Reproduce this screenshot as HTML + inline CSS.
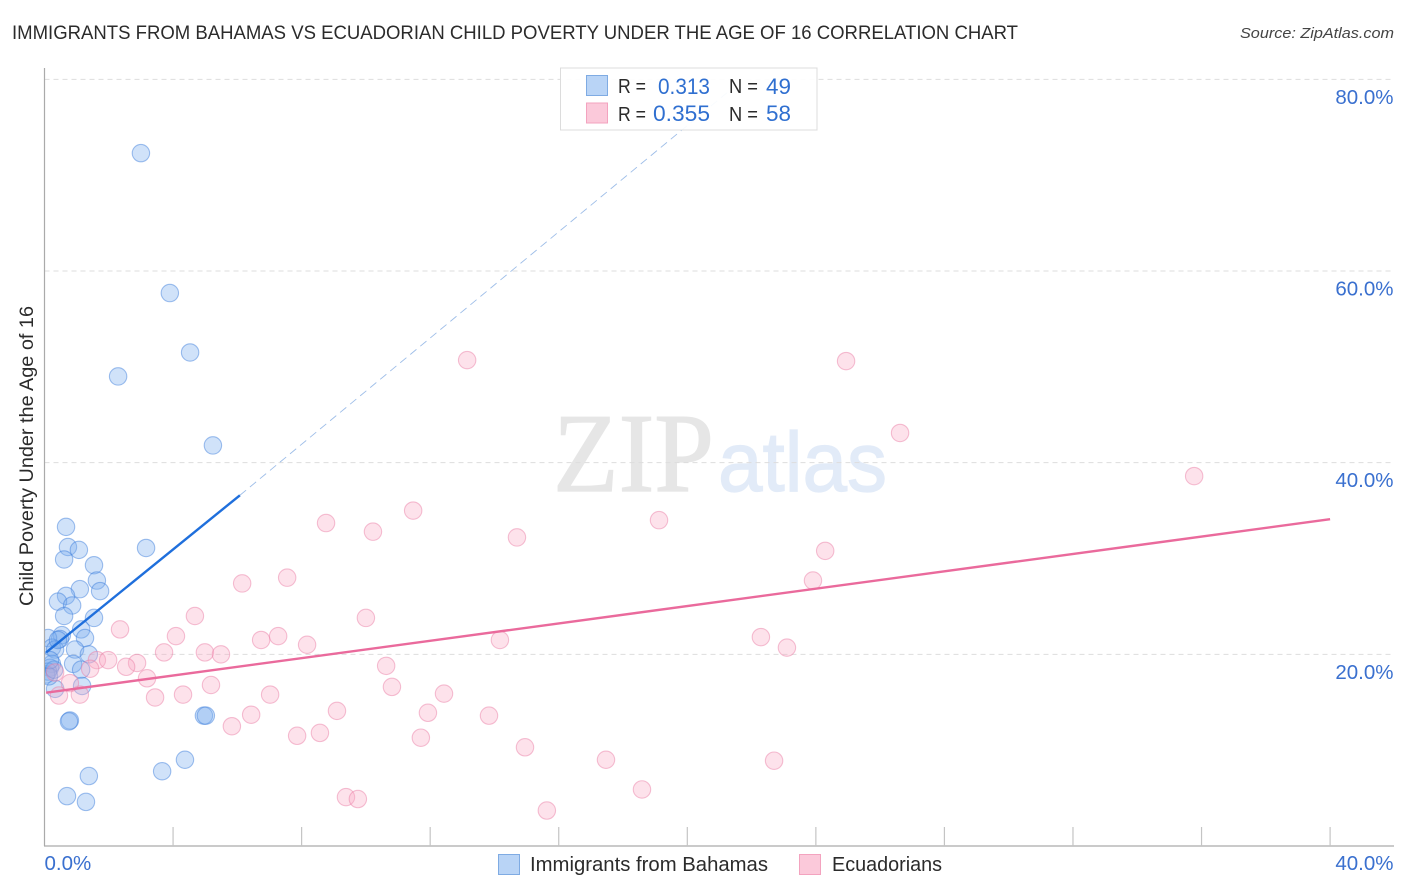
<!DOCTYPE html>
<html lang="en">
<head>
<meta charset="utf-8">
<title>Immigrants from Bahamas vs Ecuadorian Child Poverty Correlation Chart</title>
<style>
html,body{margin:0;padding:0;background:#fff;width:1406px;height:892px;overflow:hidden}
svg{display:block;font-family:"Liberation Sans",sans-serif}
</style>
</head>
<body>
<svg id="chart" xmlns="http://www.w3.org/2000/svg" width="1406" height="892" viewBox="0 0 1406 892">
  <defs>
    <clipPath id="plot-clip"><rect x="45" y="60" width="1349" height="786"/></clipPath>
  </defs>
  <text x="12" y="39" font-size="19" fill="#2b2b2b" textLength="1006" lengthAdjust="spacingAndGlyphs">IMMIGRANTS FROM BAHAMAS VS ECUADORIAN CHILD POVERTY UNDER THE AGE OF 16 CORRELATION CHART</text>
  <text x="1394" y="38" font-size="15" font-style="italic" fill="#444" text-anchor="end" textLength="154" lengthAdjust="spacingAndGlyphs">Source: ZipAtlas.com</text>
  <g>
    <text x="553" y="491" font-family="'Liberation Serif',serif" font-size="112" fill="#e6e6e6" stroke="#e6e6e6" stroke-width="1.2" textLength="161" lengthAdjust="spacingAndGlyphs">ZIP</text>
    <text x="718" y="491" font-size="84" fill="#e2ebf8" stroke="#e2ebf8" stroke-width="1.2" textLength="169" lengthAdjust="spacingAndGlyphs">atlas</text>
  </g>
  <g id="grid"></g>
  <g id="axes"></g>
  <g id="bahamas-points" clip-path="url(#plot-clip)"></g>
  <g id="ecuador-points" clip-path="url(#plot-clip)"></g>
  <g id="trends"></g>
  <text transform="translate(33,456) rotate(-90)" font-size="19" fill="#2b2b2b" text-anchor="middle" textLength="300" lengthAdjust="spacingAndGlyphs">Child Poverty Under the Age of 16</text>
  <g id="tick-labels"></g>

  <g>
    <rect x="560.5" y="68" width="256.5" height="62" fill="#fff" fill-opacity="0.93" stroke="#dcdcdc"/>
    <rect x="586.5" y="75.5" width="21" height="20" fill="#b9d4f6" stroke="#7fabe3"/>
    <rect x="586.5" y="103" width="21" height="20" fill="#fbc9da" stroke="#f3a3bf"/>
    <g font-size="20" fill="#2b2b2b">
      <text x="618" y="93" textLength="28" lengthAdjust="spacingAndGlyphs">R =</text>
      <text x="618" y="121" textLength="28" lengthAdjust="spacingAndGlyphs">R =</text>
      <text x="729" y="93" textLength="29" lengthAdjust="spacingAndGlyphs">N =</text>
      <text x="729" y="121" textLength="29" lengthAdjust="spacingAndGlyphs">N =</text>
    </g>
    <g font-size="22" fill="#2f6fd0">
      <text x="658" y="94" textLength="52" lengthAdjust="spacingAndGlyphs">0.313</text>
      <text x="653" y="121" textLength="57" lengthAdjust="spacingAndGlyphs">0.355</text>
      <text x="766" y="94" textLength="25" lengthAdjust="spacingAndGlyphs">49</text>
      <text x="766" y="121" textLength="25" lengthAdjust="spacingAndGlyphs">58</text>
    </g>
  </g>

  <g>
    <g>
      <rect x="498.5" y="854.5" width="21" height="20" fill="#b9d4f6" stroke="#7fabe3"/>
      <text x="530" y="871" font-size="20" fill="#2b2b2b" textLength="238" lengthAdjust="spacingAndGlyphs">Immigrants from Bahamas</text>
    </g>
    <g>
      <rect x="799.5" y="854.5" width="21" height="20" fill="#fbc9da" stroke="#f3a3bf"/>
      <text x="832" y="871" font-size="20" fill="#2b2b2b" textLength="110" lengthAdjust="spacingAndGlyphs">Ecuadorians</text>
    </g>
  </g>
</svg>
<script>
const bahamasX = [3.00,3.90,2.29,4.53,5.24,0.67,0.73,1.07,3.16,0.61,1.54,1.63,1.73,1.10,0.67,0.42,0.86,0.61,1.54,1.14,0.54,0.48,1.26,0.11,0.23,0.33,0.95,1.38,0.89,0.23,0.17,1.14,0.11,0.05,1.17,0.33,0.79,0.76,4.96,5.02,1.38,0.70,1.29,3.66,4.37,0.14,0.30,0.42,0.17];
const bahamasY = [72.3,57.7,49.0,51.5,41.8,33.3,31.2,30.9,31.1,29.9,29.3,27.7,26.6,26.8,26.1,25.5,25.1,24.0,23.8,22.6,22.0,21.6,21.7,21.7,20.7,20.5,20.5,20.0,19.0,19.0,18.6,18.4,18.2,17.9,16.7,16.4,13.1,13.0,13.6,13.6,7.3,5.2,4.6,7.8,9.0,17.7,18.4,21.5,19.4];
const ecuadorX = [13.15,24.94,26.62,35.77,11.47,8.76,10.22,14.70,19.12,24.29,23.91,6.15,7.55,10.00,4.68,2.35,4.09,7.27,6.74,8.17,14.17,22.29,23.10,3.72,4.99,5.49,1.63,1.98,2.88,2.54,1.42,10.63,3.19,5.18,10.81,4.31,3.44,7.02,12.43,1.10,0.45,0.79,0.33,9.10,11.93,13.83,6.43,5.83,7.86,8.57,11.71,14.95,17.47,22.70,18.59,9.38,9.75,15.63];
const ecuadorY = [50.7,50.6,43.1,38.6,35.0,33.7,32.8,32.2,34.0,30.8,27.7,27.4,28.0,23.8,24.0,22.6,21.9,21.9,21.5,21.0,21.5,21.8,20.7,20.2,20.2,20.0,19.4,19.4,19.1,18.7,18.5,18.8,17.5,16.8,16.6,15.8,15.5,15.8,15.9,15.8,15.7,17.0,18.1,14.1,13.9,13.6,13.7,12.5,11.5,11.8,11.3,10.3,9.0,8.9,5.9,5.1,4.9,3.7];
const bahamasTrendX = [0.05,6.08];
const bahamasTrendY = [20.2,36.6];
const bahamasDashX = [6.08,21.27];
const bahamasDashY = [36.6,78.7];
const ecuadorTrendX = [0.05,40];
const ecuadorTrendY = [16.0,34.1];
const yTicks = [20,40,60,80];
const yTickLabels = ["20.0%","40.0%","60.0%","80.0%"];
const xTicks = [4,8,12,16,20,24,28,32,36,40];
const xEndTicks = [0,40];
const xEndLabels = ["0.0%","40.0%"];

const NS = 'http://www.w3.org/2000/svg';
const xScale = v => 44.5 + v * 32.14;
const yScale = v => 846 - v * 9.583;
function make(tag, attrs, parent, text) {
  const el = document.createElementNS(NS, tag);
  for (const k in attrs) el.setAttribute(k, attrs[k]);
  if (text !== undefined) el.textContent = text;
  parent.appendChild(el);
  return el;
}
const grid = document.getElementById('grid');
const axes = document.getElementById('axes');
const labels = document.getElementById('tick-labels');
const trends = document.getElementById('trends');

yTicks.forEach((t, i) => {
  const g = make('line', {x1: 44.5, x2: 1394, y1: yScale(t), y2: yScale(t), stroke: '#dddddd', 'stroke-width': 1, 'stroke-dasharray': '5 4'}, grid);
  
  
  const l = make('text', {x: 1393.5, y: yScale(t) + 24.5, 'font-size': 20.5, fill: '#3a70cf', 'text-anchor': 'end'}, labels, yTickLabels[i]);
  
  
});

const yAxis = make('line', {x1: 44.5, x2: 44.5, y1: 68, y2: 846, stroke: '#aaaaaa', 'stroke-width': 1.2}, axes);


const xAxis = make('line', {x1: 44, x2: 1394, y1: 846, y2: 846, stroke: '#aaaaaa', 'stroke-width': 1.2}, axes);



xTicks.forEach(t => {
  const tick = make('line', {x1: xScale(t), x2: xScale(t), y1: 827, y2: 846, stroke: '#c4c4c4', 'stroke-width': 1.2}, axes);
  
  
});

xEndTicks.forEach((t, i) => {
  const anchor = i === 0 ? 'start' : 'end';
  const px = i === 0 ? xScale(t) : 1393.5;
  const l = make('text', {x: px, y: 870, 'font-size': 20.5, fill: '#3a70cf', 'text-anchor': anchor}, labels, xEndLabels[i]);
  
  
});

const bahamasGroup = document.getElementById('bahamas-points');
bahamasX.forEach((v, i) => {
  const c = make('circle', {cx: xScale(v), cy: yScale(bahamasY[i]), r: 8.7, fill: 'rgba(125,175,238,0.36)', stroke: 'rgba(60,125,220,0.48)', 'stroke-width': 1.1}, bahamasGroup);
  
  
});

const ecuadorGroup = document.getElementById('ecuador-points');
ecuadorX.forEach((v, i) => {
  const c = make('circle', {cx: xScale(v), cy: yScale(ecuadorY[i]), r: 8.7, fill: 'rgba(248,170,195,0.34)', stroke: 'rgba(235,125,165,0.48)', 'stroke-width': 1.1}, ecuadorGroup);
  
  
});

const dash = make('line', {x1: xScale(bahamasDashX[0]), y1: yScale(bahamasDashY[0]), x2: xScale(bahamasDashX[1]), y2: yScale(bahamasDashY[1]), stroke: '#9dbde8', 'stroke-width': 0.9, 'stroke-dasharray': '8 5'}, grid);



const blueLine = make('line', {x1: xScale(bahamasTrendX[0]), y1: yScale(bahamasTrendY[0]), x2: xScale(bahamasTrendX[1]), y2: yScale(bahamasTrendY[1]), stroke: '#1f6fdc', 'stroke-width': 2.4}, trends);



const pinkLine = make('line', {x1: xScale(ecuadorTrendX[0]), y1: yScale(ecuadorTrendY[0]), x2: xScale(ecuadorTrendX[1]), y2: yScale(ecuadorTrendY[1]), stroke: '#ea6a9c', 'stroke-width': 2.4}, trends);


</script>
</body>
</html>
